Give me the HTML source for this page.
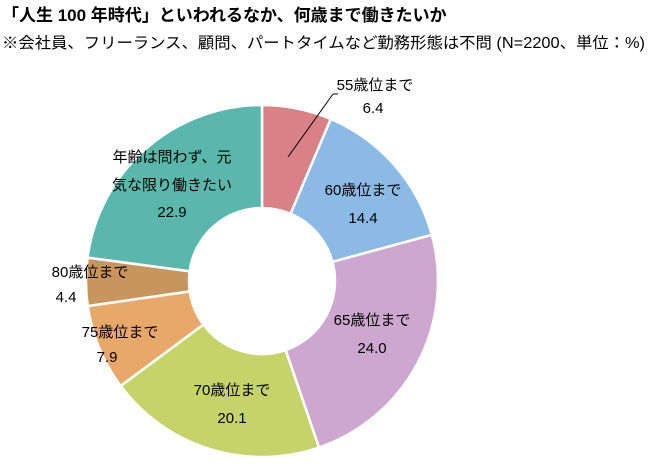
<!DOCTYPE html>
<html><head><meta charset="utf-8"><style>
body{margin:0;background:#fff;width:649px;height:464px;overflow:hidden;font-family:"Liberation Sans","Noto Sans CJK JP",sans-serif;}
svg text{font-family:"Liberation Sans","Noto Sans CJK JP",sans-serif;}
</style></head><body>
<svg width="649" height="464">
<text x="2" y="21" font-size="17" font-weight="bold" fill="#000">「人生 100 年時代」といわれるなか、何歳まで働きたいか</text>
<text x="2" y="48" font-size="15.5" fill="#000" textLength="643" lengthAdjust="spacingAndGlyphs">※会社員、フリーランス、顧問、パートタイムなど勤務形態は不問 (N=2200、単位：%)</text>
<g id="donut"></g>
<line x1="288" y1="157" x2="333" y2="94" stroke="#000" stroke-width="1"/>
<line x1="333" y1="94" x2="338" y2="94" stroke="#000" stroke-width="1"/>
<g id="labels" font-size="15" fill="#000" text-anchor="middle"></g>
</svg>
<script>
const categories=["55歳位まで","60歳位まで","65歳位まで","70歳位まで","75歳位まで","80歳位まで","年齢は問わず、元気な限り働きたい"];
const values=[6.4,14.4,24.0,20.1,7.9,4.4,22.9];
const valueLabels=["6.4","14.4","24.0","20.1","7.9","4.4","22.9"];
const colors=["#d88187","#8bbbe5","#cea7d0","#c4d46b","#e8a86a","#c9955f","#5ab7ab"];
const cx=262,cy=281,R=176,r=73;
const NS="http://www.w3.org/2000/svg";
const total=values.reduce((a,b)=>a+b,0);
function pt(a,rad){return [cx+rad*Math.sin(a),cy-rad*Math.cos(a)];}
const g=document.getElementById('donut');
let acc=0;
values.forEach((v,i)=>{
  const a0=acc/total*2*Math.PI;acc+=v;const a1=acc/total*2*Math.PI;
  const large=(a1-a0)>Math.PI?1:0;
  const [x0,y0]=pt(a0,R),[x1,y1]=pt(a1,R),[x2,y2]=pt(a1,r),[x3,y3]=pt(a0,r);
  const p=document.createElementNS(NS,'path');
  p.setAttribute('d',`M${x0},${y0}A${R},${R} 0 ${large} 1 ${x1},${y1}L${x2},${y2}A${r},${r} 0 ${large} 0 ${x3},${y3}Z`);
  p.setAttribute('fill',colors[i]);p.setAttribute('stroke','#fff');p.setAttribute('stroke-width','2.5');
  
  
  g.appendChild(p);
});
const lg=document.getElementById('labels');
const labelPos=[[375,90,373,113],[363,195,363,223],[372,325,372,353],[232,395,232,423],[120,337,107,362],[90,277,66,302],[172,162,172,217]];
labelPos.forEach((lp,i)=>{
  const lines=i===6?["年齢は問わず、元","気な限り働きたい"]:[categories[i]];
  lines.forEach((s,k)=>{
    const t=document.createElementNS(NS,'text');
    t.setAttribute('x',lp[0]);t.setAttribute('y',lp[1]+k*28);t.textContent=s;
    
    
    lg.appendChild(t);
  });
  const t=document.createElementNS(NS,'text');
  t.setAttribute('x',lp[2]);t.setAttribute('y',lp[3]);t.textContent=valueLabels[i];
  
  
  lg.appendChild(t);
});
</script>
</body></html>
